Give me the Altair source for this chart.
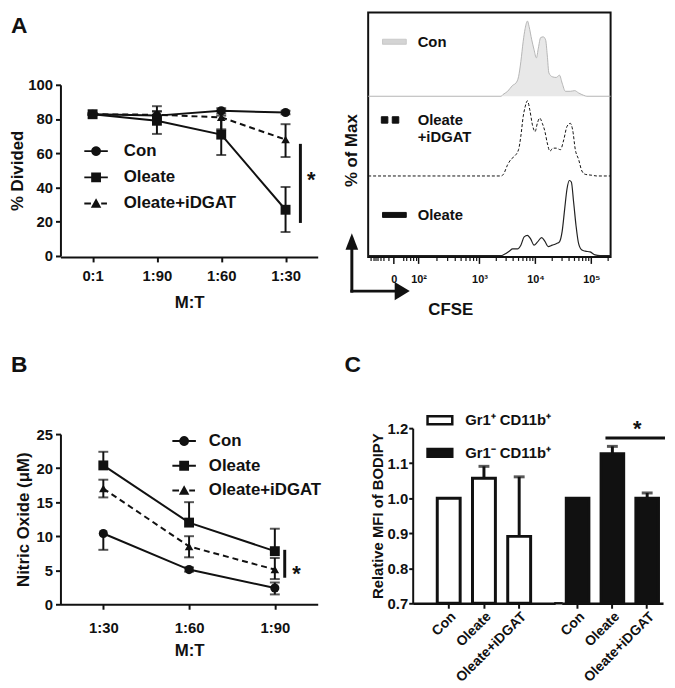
import math
import altair as alt
import pandas as pd

FONT = "Liberation Sans"
INK = "#111111"

# ---------------- data ----------------
SERIES = ["Con", "Oleate", "Oleate+iDGAT"]

# Panel A (left): % divided
A_CATS = ["0:1", "1:90", "1:60", "1:30"]
A_MEAN = {"Con": [82.8, 82.0, 84.8, 83.8],
          "Oleate": [82.8, 79.0, 70.9, 27.0],
          "Oleate+iDGAT": [82.8, 82.5, 81.0, 68.0]}
A_LO = {"Con": [82.3, 79.5, 83.3, 82.8],
        "Oleate": [82.3, 71.3, 59.0, 14.0],
        "Oleate+iDGAT": [82.3, 80.5, 74.0, 57.8]}
A_HI = {"Con": [83.3, 84.5, 86.3, 84.8],
        "Oleate": [83.3, 87.5, 82.0, 40.3],
        "Oleate+iDGAT": [83.3, 84.5, 85.0, 77.0]}
A_SIG = ("1:30", 19.3, 65.5, 45.7)

# Panel B: nitric oxide
B_CATS = ["1:30", "1:60", "1:90"]
B_MEAN = {"Con": [10.4, 5.1, 2.4],
          "Oleate": [20.4, 12.0, 7.8],
          "Oleate+iDGAT": [17.0, 8.5, 5.1]}
B_LO = {"Con": [8.0, 4.8, 1.45],
        "Oleate": [20.4, 12.0, 7.8],
        "Oleate+iDGAT": [15.7, 6.9, 3.7]}
B_HI = {"Con": [10.4, 5.4, 3.2],
        "Oleate": [22.4, 15.0, 11.1],
        "Oleate+iDGAT": [18.3, 10.0, 6.8]}
B_SIG = ("1:90", 3.9, 8.0, 5.47)

# Panel A (right): CFSE histograms (x in display decades, y in % of max)
FACS_SERIES = ["Con", "Oleate+iDGAT", "Oleate"]
FACS_CON_X = [1.01, 3.386, 3.416, 3.504, 3.593, 3.652, 3.699, 3.740, 3.782, 3.817,
              3.858, 3.888, 3.935, 3.976, 4.018, 4.053, 4.094, 4.142, 4.183, 4.212,
              4.242, 4.301, 4.372, 4.431, 4.478, 4.537, 4.625, 4.703, 4.773, 4.862,
              4.920, 5.345]
FACS_CON_Y = [0, 0, 2, 6.6, 14.5, 17.6, 26, 46, 73, 90,
              100, 92.5, 75, 62, 51, 64, 78, 79, 75, 55,
              31, 26, 25, 28, 17.6, 6.6, 6.6, 7.5, 4.4, 1.3,
              0, 0]
FACS_IDG_X = [1.01, 3.386, 3.428, 3.504, 3.563, 3.622, 3.699, 3.740, 3.782, 3.817,
              3.858, 3.900, 3.947, 3.994, 4.035, 4.077, 4.124, 4.171, 4.212, 4.260,
              4.313, 4.372, 4.448, 4.507, 4.566, 4.625, 4.667, 4.714, 4.773, 4.832,
              4.891, 5.009, 5.097, 5.345]
FACS_IDG_Y = [0, 0, 2.2, 15, 22, 26, 35, 53, 79, 92,
              100, 88, 68, 59, 70, 77, 70, 59, 44, 33,
              37, 37, 35, 48, 66, 70, 61, 35, 22, 6.6,
              2.2, 1, 0, 0]
FACS_OLE_X = [1.01, 3.386, 3.445, 3.534, 3.593, 3.681, 3.740, 3.799, 3.858, 3.917,
              3.976, 4.035, 4.112, 4.171, 4.230, 4.301, 4.372, 4.431, 4.478, 4.525,
              4.566, 4.608, 4.643, 4.684, 4.726, 4.773, 4.832, 4.891, 4.979, 5.068,
              5.156, 5.345]
FACS_OLE_Y = [0, 0, 1.8, 6, 9, 9, 14, 25, 27, 22,
              14, 18, 24, 19, 12, 14, 16, 18.5, 32, 63,
              89, 100, 98, 71, 40.5, 16, 7.5, 6, 5, 1,
              0, 0]
FACS_TICK_POS = [1.469, 1.912, 3.0, 4.0, 5.0]
FACS_TICK_LAB = ["0", "10²", "10³", "10⁴", "10⁵"]

# Panel C: relative MFI of BODIPY
C_CATS = ["Con", "Oleate", "Oleate+iDGAT"]
C_GROUPS = ["Gr1⁺ CD11b⁺", "Gr1⁻ CD11b⁺"]
C_POS = [1.000, 1.057, 0.891]
C_POS_HI = [1.000, 1.091, 1.061]
C_NEG = [1.000, 1.127, 1.000]
C_NEG_HI = [1.000, 1.148, 1.015]
C_SIG = ("Oleate", "Oleate+iDGAT", 1.172, 1.214)

# ---------------- styling helpers ----------------
def axis(**kw):
    base = dict(domainColor=INK, domainWidth=2, tickColor=INK, tickWidth=2, tickSize=5,
                labelFont=FONT, labelFontSize=15, labelFontWeight="bold", labelColor=INK,
                titleFont=FONT, titleFontSize=17, titleFontWeight="bold", titleColor=INK,
                grid=False, labelPadding=3)
    base.update(kw)
    return alt.Axis(**base)


def poly_circle(r, n=20):
    pts = [(r * math.cos(2 * math.pi * i / n), r * math.sin(2 * math.pi * i / n)) for i in range(n)]
    return "M" + "L".join(f"{x:.3f},{y:.3f}" for x, y in pts) + "Z"


def hbar(x0, x1, h=0.085):
    return f"M{x0},{-h}L{x1},{-h}L{x1},{h}L{x0},{h}Z"


LEG_LINE = hbar(-1.08, 1.08)
LEG_DASH = hbar(-1.08, -0.47) + hbar(0.47, 1.0)
LEG_SQ = "M-0.45,-0.45L0.45,-0.45L0.45,0.45L-0.45,0.45Z"
LEG_TRI = "M0,-0.48L0.48,0.38L-0.48,0.38Z"
LEG_PATHS = [LEG_LINE + poly_circle(0.45), LEG_LINE + LEG_SQ, LEG_DASH + LEG_TRI]
MARK_SHAPES = {"Con": ("circle", 85), "Oleate": ("square", 100), "Oleate+iDGAT": ("triangle-up", 75)}


def letter_layer(letter, dx, dy):
    return alt.Chart(pd.DataFrame({"t": [letter]})).mark_text(
        font=FONT, fontSize=23, fontWeight="bold", color=INK, align="left", baseline="top"
    ).encode(text="t:N", x=alt.value(dx), y=alt.value(dy))


def line_panel(cats, mean, lo, hi, sig, width, xrange, height, yrange, ydom, yvals, ytitle,
               ytitle_pad, xlab_pad, xtitle_pad, leg_x, leg_y, leg_row_pad, leg_lab_off,
               letter, letter_dx, letter_dy, sig_dx, star_dx, star_dy):
    rows = [dict(series=s, cat=c, m=m, lo=l, hi=h)
            for s in SERIES for c, m, l, h in zip(cats, mean[s], lo[s], hi[s])]
    df = pd.DataFrame(rows)
    caps = pd.DataFrame([dict(series=r["series"], cat=r["cat"], m=v)
                         for r in rows for v in (r["lo"], r["hi"]) if v != r["m"]])
    xs = alt.Scale(type="point", domain=cats, padding=0.5, range=xrange)
    ax_x = axis(title="M:T", labelAngle=0, labelPadding=xlab_pad, titlePadding=xtitle_pad)
    ys = alt.Scale(domain=ydom, range=yrange, nice=False, zero=False)
    ax_y = axis(title=ytitle, values=yvals, titlePadding=ytitle_pad)
    X = alt.X("cat:N", scale=xs, axis=ax_x, sort=cats)

    def Y(f):
        return alt.Y(f, type="quantitative", scale=ys, axis=ax_y)

    layers = []
    for s in SERIES:
        kw = dict(color=INK, strokeWidth=2)
        if s == "Oleate+iDGAT":
            kw["strokeDash"] = [6, 4]
        layers.append(alt.Chart(df[df.series == s]).mark_line(**kw).encode(x=X, y=Y("m")))
    layers.append(alt.Chart(df).mark_rule(color=INK, strokeWidth=2).encode(x=X, y=Y("lo"), y2="hi"))
    layers.append(alt.Chart(caps).mark_tick(color=INK, thickness=2, size=10, orient="horizontal")
                  .encode(x=X, y=Y("m")))
    for s in SERIES:
        shp, sz = MARK_SHAPES[s]
        layers.append(alt.Chart(df[df.series == s])
                      .mark_point(shape=shp, size=sz, filled=True, color=INK, opacity=1)
                      .encode(x=X, y=Y("m")))
    sig_df = pd.DataFrame({"cat": [sig[0]], "lo": [sig[1]], "hi": [sig[2]], "m": [sig[3]]})
    layers.append(alt.Chart(sig_df).mark_rule(color=INK, strokeWidth=3, xOffset=sig_dx)
                  .encode(x=X, y=Y("lo"), y2="hi"))
    layers.append(alt.Chart(sig_df).mark_text(text="*", font=FONT, fontSize=22, fontWeight="bold",
                                              color=INK, xOffset=star_dx, dy=star_dy)
                  .encode(x=X, y=Y("m")))
    leg = alt.Legend(title=None, orient="none", legendX=leg_x, legendY=leg_y, symbolSize=484,
                     symbolFillColor=INK, symbolStrokeWidth=0,
                     symbolOpacity=1, labelFont=FONT, labelFontSize=17, labelFontWeight="bold",
                     labelColor=INK, labelOffset=leg_lab_off, rowPadding=leg_row_pad, padding=0)
    layers.append(alt.Chart(pd.DataFrame({"series": SERIES})).transform_filter("false")
                  .mark_point(filled=True, opacity=1, color=INK)
                  .encode(shape=alt.Shape("series:N",
                                          scale=alt.Scale(domain=SERIES, range=LEG_PATHS),
                                          legend=leg)))
    layers.append(letter_layer(letter, letter_dx, letter_dy))
    return alt.layer(*layers).properties(width=width, height=height)


# ---------------- Panel A left ----------------
A_left = line_panel(A_CATS, A_MEAN, A_LO, A_HI, A_SIG, width=311, xrange=[0, 260], height=247,
                    yrange=[246, 73], ydom=[0, 100], yvals=[0, 20, 40, 60, 80, 100],
                    ytitle="% Divided", ytitle_pad=1, xlab_pad=7, xtitle_pad=11,
                    leg_x=25, leg_y=129, leg_row_pad=7.5, leg_lab_off=17,
                    letter="A", letter_dx=-50, letter_dy=3, sig_dx=15, star_dx=26, star_dy=2)

# ---------------- Panel A right (FACS) ----------------
f_rows = []
for s, xs_, ys_, base in [("Con", FACS_CON_X, FACS_CON_Y, 212),
                          ("Oleate+iDGAT", FACS_IDG_X, FACS_IDG_Y, 106),
                          ("Oleate", FACS_OLE_X, FACS_OLE_Y, 0)]:
    for x, y in zip(xs_, ys_):
        f_rows.append(dict(series=s, L=x, h=y, base=base, top=base + y))
dfF = pd.DataFrame(f_rows)

minor = [1.062, 1.115, 1.150, 1.186, 1.239, 1.292, 1.381, 1.646, 1.699, 1.770, 1.823, 1.876]
minor += [round(1.912 + math.log10(k) * 1.088, 3) for k in range(2, 10)]
minor += [round(3 + math.log10(k), 3) for k in range(2, 10)]
minor += [round(4 + math.log10(k), 3) for k in range(2, 10)]
minor += [5.301]
lab_expr = "''"
for p, lab in reversed(list(zip(FACS_TICK_POS, FACS_TICK_LAB))):
    lab_expr = f"datum.value === {p} ? '{lab}' : ({lab_expr})"

FXS = alt.Scale(domain=[1.01, 5.345], nice=False, zero=False)
FXA = alt.Axis(values=FACS_TICK_POS, labelExpr=lab_expr, ticks=False,
               domain=False, grid=False,
               labelFont=FONT, labelFontSize=11, labelFontWeight="bold", labelColor=INK,
               labelPadding=17, labelOverlap=False, labelFlush=False,
               title="CFSE", titleFont=FONT, titleFontSize=17, titleFontWeight="bold",
               titleColor=INK, titleX=83, titleY=45, titleAlign="center", titleBaseline="top")


def FX(f):
    return alt.X(f, type="quantitative", scale=FXS, axis=FXA)


FYS = alt.Scale(domain=[-1.7, 323.3], nice=False, zero=False)
FYA = alt.Axis(title="% of Max", labels=False, ticks=False, domain=False, grid=False,
               titleFont=FONT, titleFontSize=17, titleFontWeight="bold", titleColor=INK,
               titleX=-17, titleY=139, titleAngle=270, titleAlign="center", titleBaseline="middle")


def FY(f):
    return alt.Y(f, type="quantitative", scale=FYS, axis=FYA)


con_df = dfF[dfF.series == "Con"]
facs_layers = [
    alt.Chart(con_df).mark_area(color="#e8e8e8", interpolate="monotone").encode(x=FX("L"), y=FY("top"), y2="base"),
    alt.Chart(con_df).mark_line(color="#b5b5b5", strokeWidth=1, interpolate="monotone").encode(x=FX("L"), y=FY("top")),
    alt.Chart(dfF[dfF.series == "Oleate+iDGAT"]).mark_line(color=INK, strokeWidth=1, strokeDash=[3, 2],
                                                          interpolate="monotone").encode(x=FX("L"), y=FY("top")),
    alt.Chart(dfF[dfF.series == "Oleate"]).mark_line(color="#222222", strokeWidth=1.2,
                                                    interpolate="monotone").encode(x=FX("L"), y=FY("top")),
    # axis ticks of the biexponential scale
    alt.Chart(pd.DataFrame({"t": FACS_TICK_POS})).mark_rule(color=INK, strokeWidth=1.5)
    .encode(x=FX("t"), y=alt.value(247), y2=alt.value(254)),
    alt.Chart(pd.DataFrame({"t": minor})).mark_rule(color=INK, strokeWidth=1.2)
    .encode(x=FX("t"), y=alt.value(247), y2=alt.value(251)),
]
one = pd.DataFrame({"k": [0]})
ARROW_UP = "M0,-1.1L0.8,1L-0.8,1Z"
ARROW_RIGHT = "M1,0L-0.9,1.15L-0.9,-1.15Z"
facs_layers += [
    alt.Chart(one).mark_rule(color=INK, strokeWidth=3).encode(x=alt.value(-16.5), y=alt.value(238), y2=alt.value(283)),
    alt.Chart(one).mark_rule(color=INK, strokeWidth=3).encode(x=alt.value(-18), x2=alt.value(30), y=alt.value(281.5)),
    alt.Chart(one).mark_point(shape=ARROW_UP, filled=True, color=INK, size=256, opacity=1)
    .encode(x=alt.value(-16.5), y=alt.value(231.8)),
    alt.Chart(one).mark_point(shape=ARROW_RIGHT, filled=True, color=INK, size=256, opacity=1)
    .encode(x=alt.value(34), y=alt.value(281.5)),
]
FACS_PATHS = ["M-1,-0.21L1,-0.21L1,0.21L-1,0.21Z",
              "M-1.1,-0.27L-0.55,-0.27L-0.55,0.27L-1.1,0.27ZM-0.18,-0.27L0.37,-0.27L0.37,0.27L-0.18,0.27Z",
              "M-1,-0.21L1,-0.21L1,0.21L-1,0.21Z"]
f_leg = alt.Legend(title=None, orient="none", legendX=14, legendY=17, symbolSize=576,
                   symbolStrokeWidth=1, symbolOpacity=1, labelFont=FONT, labelFontSize=15,
                   labelFontWeight="bold", labelColor=INK, labelOffset=11, rowPadding=58, padding=0,
                   labelExpr="datum.label === 'Oleate+iDGAT' ? ['Oleate', '+iDGAT'] : datum.label")
facs_layers.append(
    alt.Chart(pd.DataFrame({"series": FACS_SERIES})).transform_filter("false")
    .mark_point(filled=True, opacity=1)
    .encode(shape=alt.Shape("series:N", scale=alt.Scale(domain=FACS_SERIES, range=FACS_PATHS), legend=f_leg),
            fill=alt.Fill("series:N", scale=alt.Scale(domain=FACS_SERIES, range=["#d4d4d4", INK, INK]), legend=f_leg),
            stroke=alt.Stroke("series:N", scale=alt.Scale(domain=FACS_SERIES, range=["#c8c8c8", INK, INK]), legend=f_leg))
)
A_right = alt.layer(*facs_layers).properties(width=245, height=247,
                                              view=alt.ViewBackground(stroke=INK, strokeWidth=2))

# ---------------- Panel B ----------------
B = line_panel(B_CATS, B_MEAN, B_LO, B_HI, B_SIG, width=311, xrange=[0, 260], height=258,
               yrange=[258, 86], ydom=[0, 25], yvals=[0, 5, 10, 15, 20, 25],
               ytitle="Nitric Oxide (μM)", ytitle_pad=4, xlab_pad=12, xtitle_pad=7,
               leg_x=114, leg_y=82, leg_row_pad=6, leg_lab_off=14,
               letter="B", letter_dx=-50, letter_dy=5, sig_dx=10, star_dx=22, star_dy=7)

# ---------------- Panel C ----------------
C_SHIFT = 45
C2_START = 150.6
CYS = alt.Scale(domain=[0.7, 1.2], range=[257, 80], nice=False, zero=False)
cy_axis = axis(title="Relative MFI of BODIPY", values=[0.7, 0.8, 0.9, 1.0, 1.1, 1.2], format=".1f",
               tickSize=4, labelPadding=1, titleFontSize=15, titlePadding=2, offset=-C_SHIFT)
cx_axis = axis(title=None, labelAngle=-45, labelAlign="right", labelBaseline="top", labelFontSize=14,
               labelPadding=1, tickSize=5, domainWidth=2.5, orient="bottom")
C_LEG_PATH = "M-1,-0.32L1,-0.32L1,0.32L-1,0.32Z"


def c_layer(vals, his, group, xscale, first):
    df = pd.DataFrame({"cat": C_CATS, "v": vals, "hi": his, "group": group})
    X = alt.X("cat:N", sort=C_CATS, scale=xscale, axis=cx_axis)

    def Y(f):
        return alt.Y(f, type="quantitative", scale=CYS, axis=cy_axis)

    if first:
        leg = alt.Legend(title=None, orient="none", legendX=C_SHIFT + 13.5, legendY=58,
                         symbolType=C_LEG_PATH, symbolSize=625, symbolStrokeColor=INK,
                         symbolStrokeWidth=2.5, symbolOpacity=1, labelFont=FONT, labelFontSize=15,
                         labelFontWeight="bold", labelColor=INK, labelOffset=11.5, rowPadding=10,
                         padding=0)
        bars = alt.Chart(df).mark_bar(stroke=INK, strokeWidth=3).encode(
            x=X, y=Y("v"), y2=alt.datum(0.7),
            fill=alt.Fill("group:N", scale=alt.Scale(domain=C_GROUPS, range=["white", INK]), legend=leg))
    else:
        bars = alt.Chart(df).mark_bar(stroke=INK, strokeWidth=3, fill=INK).encode(x=X, y=Y("v"), y2=alt.datum(0.7))
    err = df[df.hi > df.v]
    layers = [
        alt.Chart(err).mark_rule(color=INK, strokeWidth=3).encode(x=X, y=Y("v"), y2="hi"),
        alt.Chart(err).mark_tick(color=INK, thickness=3, size=11, orient="horizontal").encode(x=X, y=Y("hi")),
        bars,
    ]
    if first:
        layers.append(letter_layer("C", -24, 5))
    else:
        # continue the x-axis baseline across the gap between the two bar groups
        layers.append(alt.Chart(one).mark_rule(color=INK, strokeWidth=2.5)
                      .encode(x=alt.value(C_SHIFT + 143), x2=alt.value(C_SHIFT + C2_START + 1),
                              y=alt.value(257)))
        sdf = pd.DataFrame({"cat": [C_SIG[0]], "cat2": [C_SIG[1]], "y": [C_SIG[2]]})
        layers.append(alt.Chart(sdf).mark_rule(color=INK, strokeWidth=3, xOffset=-7, x2Offset=18)
                      .encode(x=X, x2="cat2:N", y=Y("y")))
        tdf = pd.DataFrame({"cat": [C_SIG[1]], "y": [C_SIG[3]]})
        layers.append(alt.Chart(tdf).mark_text(text="*", font=FONT, fontSize=22, fontWeight="bold",
                                               color=INK, xOffset=-10, dy=6).encode(x=X, y=Y("y")))
    return alt.layer(*layers)


C1 = c_layer(C_POS, C_POS_HI, C_GROUPS[0],
             alt.Scale(domain=C_CATS, paddingInner=0.35, paddingOuter=0.697,
                       range=[C_SHIFT, C_SHIFT + 144]), True)
C2 = c_layer(C_NEG, C_NEG_HI, C_GROUPS[1],
             alt.Scale(domain=C_CATS, paddingInner=0.35, paddingOuter=0.131,
                       range=[C_SHIFT + C2_START, C_SHIFT + 253]), False)
C = alt.layer(C1, C2).resolve_scale(x="independent").resolve_axis(x="independent") \
    .properties(width=C_SHIFT + 253, height=257)

RES = dict(x="independent", y="independent", shape="independent", fill="independent",
           stroke="independent", color="independent")

chart = alt.concat(A_left, A_right, B, C, columns=2,
                   spacing={"row": 93, "column": 0}, bounds="flush") \
    .resolve_scale(**RES) \
    .configure_view(stroke=None) \
    .properties(padding={"left": 0, "top": 0, "right": 0, "bottom": 0})

chart.save("out.html", embed_options={"renderer": "svg", "actions": False})
